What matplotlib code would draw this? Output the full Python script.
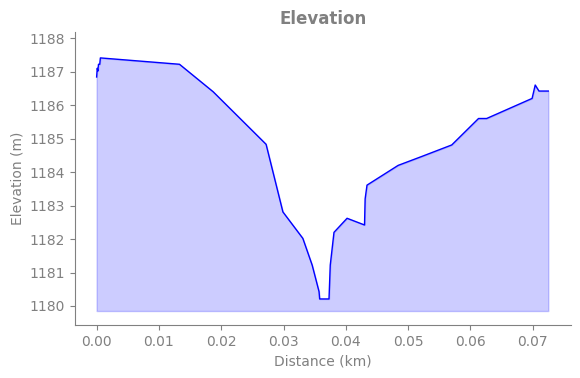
import matplotlib
matplotlib.use("Agg")
import matplotlib.pyplot as plt

distance_km = [0.0, 0.0001, 0.0002, 0.0003, 0.0005, 0.0006, 0.0133, 0.0187, 0.0272, 0.0299, 0.0331,
               0.0346, 0.0357, 0.0358, 0.0373, 0.0375, 0.0381, 0.0402, 0.0430, 0.0431,
               0.0434, 0.0484, 0.0521, 0.0570, 0.0613, 0.0626, 0.0699, 0.0704, 0.0710, 0.0725]
elevation_m = [1186.84, 1187.1, 1187.02, 1187.22, 1187.22, 1187.41, 1187.22, 1186.40, 1184.83, 1182.81, 1182.02,
               1181.22, 1180.43, 1180.21, 1180.21, 1181.22, 1182.2, 1182.62, 1182.42, 1183.2,
               1183.61, 1184.2, 1184.46, 1184.81, 1185.60, 1185.60, 1186.2, 1186.6, 1186.42, 1186.42]
fill_base = 1179.85

gray = "#808080"
fig = plt.figure(figsize=(5.8, 3.78), dpi=100)
ax = fig.add_axes([0.129, 0.140, 0.855, 0.775])
ax.plot(distance_km, elevation_m, color="blue", linewidth=1)
ax.fill_between(distance_km, elevation_m, fill_base, color="blue", alpha=0.2)
ax.set_xlim(-0.0035, 0.0761)
ax.set_ylim(1179.43, 1188.18)
ax.set_title("Elevation", fontsize=12, fontweight="bold", color=gray)
ax.set_xlabel("Distance (km)", color=gray)
ax.set_ylabel("Elevation (m)", color=gray)
ax.tick_params(colors=gray, labelcolor=gray)
for s in ["top", "right"]:
    ax.spines[s].set_visible(False)
for s in ["left", "bottom"]:
    ax.spines[s].set_color(gray)
fig.savefig("out.png", dpi=100)
